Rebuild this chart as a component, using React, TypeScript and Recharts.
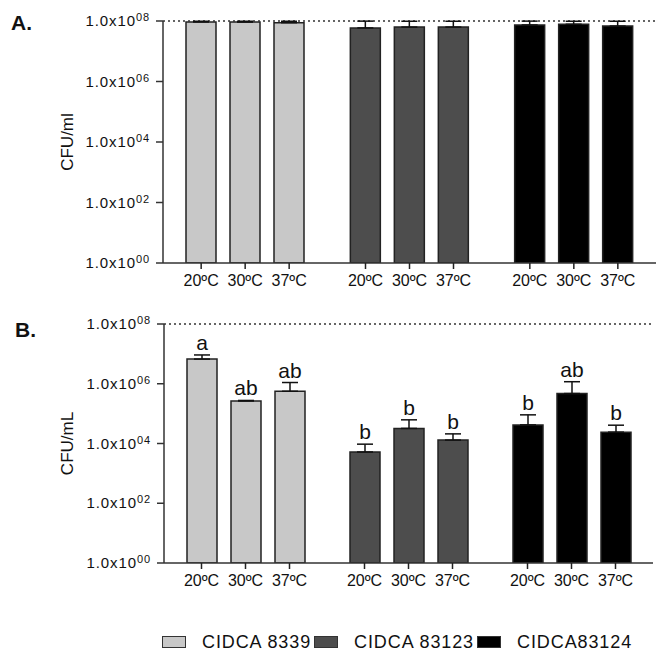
import { Bar, BarChart, Cell, ErrorBar, LabelList, ReferenceLine, XAxis, YAxis } from "recharts";

const STRAINS: string[] = ["CIDCA 8339", "CIDCA 83123", "CIDCA83124"];
const TEMPS: string[] = ["20ºC", "30ºC", "37ºC"];
const COLORS: string[] = ["#c8c8c8", "#4d4d4d", "#000000"];
const Y_TICKS: number[] = [1, 1e2, 1e4, 1e6, 1e8];

// panel A - CFU/ml, one value per strain (order of STRAINS)
const A_20: number[] = [9.3e7, 5.9e7, 7.4e7];
const A_30: number[] = [9.2e7, 6.3e7, 7.8e7];
const A_37: number[] = [8.8e7, 6.3e7, 6.8e7];
const A_ERR_20: number[] = [0.5e7, 4e7, 2.5e7];
const A_ERR_30: number[] = [0.6e7, 3.5e7, 2e7];
const A_ERR_37: number[] = [1e7, 3.5e7, 3e7];

// panel B - CFU/mL
const B_20: number[] = [6.7e6, 5.2e3, 4.2e4];
const B_30: number[] = [2.66e5, 3.2e4, 4.7e5];
const B_37: number[] = [5.6e5, 1.3e4, 2.4e4];
const B_ERR_20: number[] = [2.5e6, 4.3e3, 4.9e4];
const B_ERR_30: number[] = [1e4, 3e4, 7e5];
const B_ERR_37: number[] = [5.4e5, 8e3, 1.7e4];
const B_LET_20: string[] = ["a", "b", "b"];
const B_LET_30: string[] = ["ab", "b", "ab"];
const B_LET_37: string[] = ["ab", "b", "b"];

const FONT = "Arial, 'Liberation Sans', sans-serif";
const BAR_SIZE = 30;
const BAR_GAP = 14;
const STEP = BAR_SIZE + BAR_GAP;

const buildRows = (means: number[][], errs: number[][]) =>
  STRAINS.map((strain, s) => {
    const row: any = { strain };
    means.forEach((m, t) => {
      row[`t${t}`] = m[s];
      row[`e${t}`] = [0, errs[t][s]];
    });
    return row;
  });

const dataA = buildRows([A_20, A_30, A_37], [A_ERR_20, A_ERR_30, A_ERR_37]);
const dataB = buildRows([B_20, B_30, B_37], [B_ERR_20, B_ERR_30, B_ERR_37]);
const meansB = [B_20, B_30, B_37];
const errsB = [B_ERR_20, B_ERR_30, B_ERR_37];
const lettersB = [B_LET_20, B_LET_30, B_LET_37];

const YTick = (props: any) => {
  const { x, y, payload } = props;
  const exp = String(Math.round(Math.log10(payload.value))).padStart(2, "0");
  return (
    <text x={x - 4} y={y + 5} textAnchor="end" fontSize={15} fill="#111" fontFamily={FONT} letterSpacing={0.9}>
      1.0x10
      <tspan dy={-5} fontSize={11}>
        {exp}
      </tspan>
    </text>
  );
};

const XTick = (props: any) => {
  const { x, y } = props;
  return (
    <g>
      {TEMPS.map((t, i) => {
        const cx = x + (i - 1) * STEP;
        return (
          <g key={t}>
            <line x1={cx} x2={cx} y1={y} y2={y + 6} stroke="#222" strokeWidth={1.5} />
            <text x={cx} y={y + 23} textAnchor="middle" fontSize={16} fill="#111" fontFamily={FONT}>
              {t}
            </text>
          </g>
        );
      })}
    </g>
  );
};

const letterLabel = (t: number) => (props: any) => {
  const { x, y, width, height, index } = props;
  const v = meansB[t][index];
  const perDecade = height / Math.log10(v);
  const capY = y - perDecade * (Math.log10(v + errsB[t][index]) - Math.log10(v));
  return (
    <text x={x + width / 2} y={capY - 5} textAnchor="middle" fontSize={21} fill="#111" fontFamily={FONT}>
      {lettersB[t][index]}
    </text>
  );
};

const Panel = ({ data, yLabel, top, yWidth, right, labels }: any) => (
  <BarChart
    width={656}
    height={300}
    data={data}
    margin={{ top, right, left: 0, bottom: 0 }}
    barSize={BAR_SIZE}
    barGap={BAR_GAP}
  >
    <XAxis
      dataKey="strain"
      height={37}
      tick={<XTick />}
      tickLine={false}
      tickSize={0}
      tickMargin={0}
      axisLine={{ stroke: "#333", strokeWidth: 1.5 }}
    />
    <YAxis
      scale="log"
      type="number"
      domain={[1, 1e8]}
      allowDataOverflow
      ticks={Y_TICKS}
      interval={0}
      width={yWidth}
      tick={<YTick />}
      tickSize={7}
      tickLine={{ stroke: "#333", strokeWidth: 1.5 }}
      axisLine={{ stroke: "#333", strokeWidth: 1.5 }}
      label={{
        value: yLabel,
        angle: -90,
        position: "insideLeft",
        offset: 67,
        style: { textAnchor: "middle", fontSize: 17, fill: "#111", fontFamily: FONT },
      }}
    />
    <ReferenceLine y={1e8} stroke="#333" strokeWidth={1.5} strokeDasharray="2 3" />
    {TEMPS.map((t, i) => (
      <Bar key={t} dataKey={`t${i}`} stroke="#222" strokeWidth={1.5} isAnimationActive={false}>
        {data.map((_row: any, s: number) => (
          <Cell key={`c-${s}`} fill={COLORS[s]} />
        ))}
        <ErrorBar dataKey={`e${i}`} width={8} stroke="#111" strokeWidth={1.5} />
        {labels && <LabelList dataKey={`t${i}`} content={letterLabel(i)} />}
      </Bar>
    ))}
  </BarChart>
);

export default function App() {
  return (
    <div style={{ position: "absolute", left: 0, top: 0, width: 656, height: 651, fontFamily: FONT, background: "#fff", color: "#111" }}>
      <div style={{ position: "absolute", left: 0, top: 0 }}>
        <Panel data={dataA} yLabel="CFU/ml" top={21} yWidth={163} right={0} labels={false} />
      </div>
      <div style={{ position: "absolute", left: 0, top: 300 }}>
        <Panel data={dataB} yLabel="CFU/mL" top={24} yWidth={164} right={3} labels />
      </div>
      <div style={{ position: "absolute", left: 11, top: 12, fontSize: 21, fontWeight: "bold", lineHeight: 1 }}>A.</div>
      <div style={{ position: "absolute", left: 15, top: 319, fontSize: 21, fontWeight: "bold", lineHeight: 1 }}>B.</div>
      <div
        style={{
          position: "absolute",
          left: 162,
          top: 633,
          display: "flex",
          alignItems: "center",
          fontSize: 18,
          letterSpacing: 0.9,
          lineHeight: 1,
          whiteSpace: "nowrap",
        }}
      >
        {STRAINS.map((s, i) => (
          <div key={s} style={{ display: "flex", alignItems: "center" }}>
            <span
              style={{
                display: "inline-block",
                width: 22,
                height: 10,
                background: COLORS[i],
                border: "1px solid #333",
                marginRight: 16,
              }}
            />
            <span style={{ marginRight: 3 }}>{s}</span>
          </div>
        ))}
      </div>
    </div>
  );
}
